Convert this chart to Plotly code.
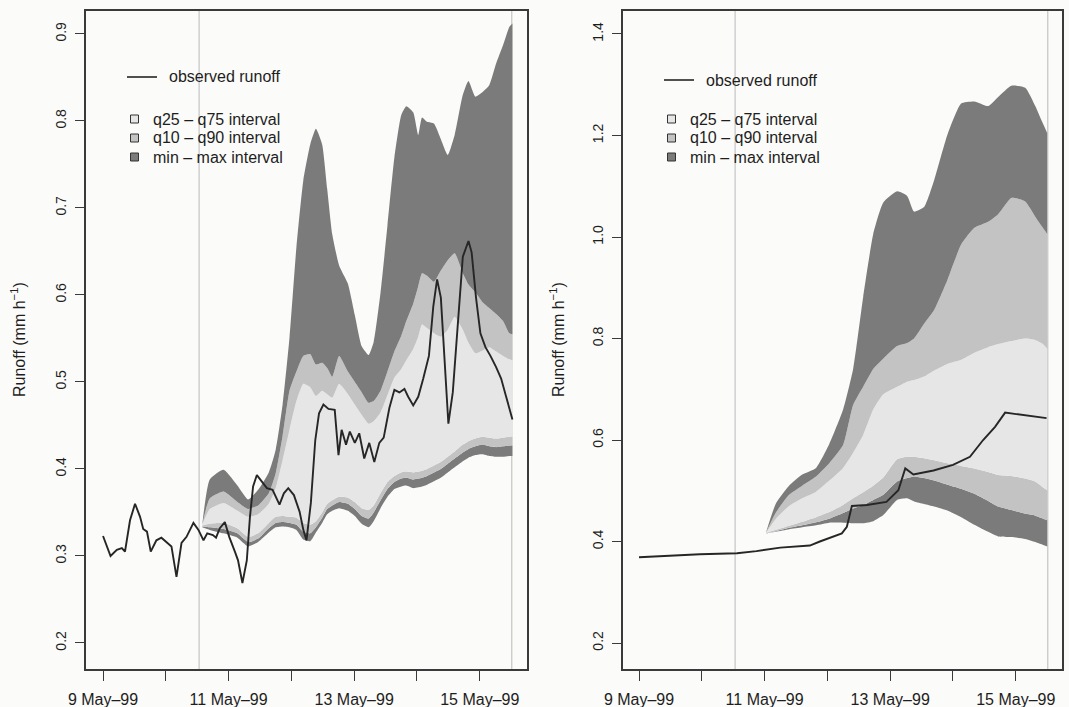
import pandas as pd
import plotly.graph_objects as go

W, H = 1069, 707
BASE = pd.Timestamp("1999-05-09 00:00")

# ---------------- data (days since 9 May 1999 00:00) ----------------
left_obs_days = [0, 0.12, 0.22, 0.30, 0.35, 0.43, 0.51, 0.59, 0.64, 0.70, 0.76, 0.85, 0.93, 1.02, 1.09,
                 1.17, 1.25, 1.33, 1.44, 1.52, 1.60, 1.66, 1.75, 1.80, 1.86, 1.94, 2.01, 2.10, 2.15, 2.22,
                 2.29, 2.34, 2.39, 2.45, 2.53, 2.61, 2.70, 2.81, 2.88, 2.95, 3.04, 3.13, 3.19, 3.24, 3.31,
                 3.38, 3.44, 3.51, 3.59, 3.69, 3.75, 3.80, 3.87, 3.93, 4.01, 4.08, 4.16, 4.24, 4.32, 4.40,
                 4.47, 4.56, 4.64, 4.72, 4.80, 4.86, 4.94, 5.02, 5.10, 5.19, 5.26, 5.32, 5.38, 5.44, 5.50,
                 5.57, 5.65, 5.73, 5.82, 5.87, 5.94, 6.01, 6.09, 6.17, 6.26, 6.34, 6.42, 6.52]
left_obs = [0.323, 0.300, 0.307, 0.309, 0.305, 0.341, 0.360, 0.345, 0.331, 0.328, 0.305, 0.318, 0.321, 0.315, 0.311,
            0.276, 0.315, 0.322, 0.338, 0.330, 0.318, 0.326, 0.324, 0.321, 0.332, 0.339, 0.322, 0.305, 0.295, 0.269,
            0.295, 0.345, 0.380, 0.393, 0.385, 0.378, 0.376, 0.359, 0.372, 0.378, 0.370, 0.351, 0.330, 0.318, 0.361,
            0.433, 0.464, 0.474, 0.469, 0.468, 0.416, 0.445, 0.428, 0.443, 0.430, 0.441, 0.412, 0.430, 0.408, 0.430,
            0.436, 0.470, 0.491, 0.488, 0.492, 0.483, 0.473, 0.483, 0.504, 0.530, 0.587, 0.618, 0.597, 0.524, 0.452,
            0.488, 0.566, 0.644, 0.662, 0.649, 0.597, 0.556, 0.540, 0.530, 0.517, 0.504, 0.483, 0.457]

left_band_days = [1.58, 1.70, 1.92, 2.14, 2.31, 2.47, 2.64, 2.75, 2.86, 2.97, 3.08, 3.19, 3.30, 3.39, 3.49,
                  3.57, 3.65, 3.76, 3.90, 4.01, 4.12, 4.23, 4.31, 4.42, 4.53, 4.64, 4.75, 4.83, 4.94, 5.02,
                  5.08, 5.16, 5.27, 5.38, 5.49, 5.60, 5.73, 5.82, 5.93, 6.04, 6.15, 6.26, 6.37, 6.47, 6.52]
left_max = [0.336, 0.388, 0.399, 0.381, 0.365, 0.376, 0.396, 0.422, 0.474, 0.551, 0.655, 0.732, 0.773, 0.791, 0.773,
            0.722, 0.670, 0.634, 0.613, 0.577, 0.541, 0.531, 0.546, 0.603, 0.680, 0.758, 0.807, 0.817, 0.810, 0.784,
            0.804, 0.799, 0.797, 0.779, 0.761, 0.784, 0.830, 0.846, 0.828, 0.833, 0.841, 0.866, 0.887, 0.908, 0.912]
left_q90 = [0.336, 0.366, 0.374, 0.362, 0.354, 0.358, 0.372, 0.395, 0.438, 0.490, 0.512, 0.530, 0.532, 0.520, 0.522,
            0.516, 0.506, 0.530, 0.512, 0.500, 0.488, 0.476, 0.478, 0.490, 0.512, 0.535, 0.553, 0.570, 0.590, 0.610,
            0.625, 0.622, 0.615, 0.628, 0.640, 0.648, 0.625, 0.612, 0.603, 0.592, 0.585, 0.578, 0.570, 0.556, 0.555]
left_q75 = [0.336, 0.354, 0.361, 0.352, 0.345, 0.348, 0.360, 0.378, 0.410, 0.445, 0.478, 0.498, 0.494, 0.484, 0.490,
            0.486, 0.482, 0.498, 0.486, 0.474, 0.462, 0.452, 0.455, 0.465, 0.485, 0.505, 0.515, 0.525, 0.538, 0.552,
            0.566, 0.562, 0.556, 0.552, 0.560, 0.575, 0.560, 0.545, 0.533, 0.536, 0.540, 0.535, 0.530, 0.526, 0.525]
left_q25 = [0.335, 0.337, 0.338, 0.332, 0.322, 0.326, 0.338, 0.345, 0.346, 0.345, 0.344, 0.338, 0.336, 0.340, 0.350,
            0.360, 0.364, 0.368, 0.367, 0.362, 0.355, 0.353, 0.358, 0.372, 0.385, 0.392, 0.396, 0.397, 0.396, 0.397,
            0.398, 0.400, 0.404, 0.408, 0.414, 0.420, 0.428, 0.432, 0.435, 0.437, 0.436, 0.435, 0.436, 0.437, 0.437]
left_q10 = [0.334, 0.333, 0.331, 0.326, 0.316, 0.320, 0.332, 0.338, 0.339, 0.338, 0.336, 0.328, 0.326, 0.333, 0.344,
            0.354, 0.358, 0.362, 0.360, 0.354, 0.346, 0.343, 0.350, 0.364, 0.377, 0.385, 0.389, 0.390, 0.388, 0.389,
            0.390, 0.392, 0.396, 0.400, 0.406, 0.412, 0.419, 0.423, 0.426, 0.428, 0.426, 0.425, 0.426, 0.427, 0.427]
left_min = [0.333, 0.330, 0.326, 0.321, 0.311, 0.316, 0.327, 0.333, 0.334, 0.333, 0.330, 0.319, 0.317, 0.327, 0.338,
            0.348, 0.352, 0.355, 0.352, 0.346, 0.337, 0.333, 0.340, 0.355, 0.368, 0.377, 0.380, 0.381, 0.378, 0.379,
            0.380, 0.382, 0.386, 0.390, 0.396, 0.402, 0.409, 0.413, 0.416, 0.417, 0.415, 0.414, 0.414, 0.415, 0.415]

right_obs_days = [0, 0.97, 1.56, 1.87, 2.25, 2.72, 2.88, 3.09, 3.23, 3.31, 3.39, 3.63, 3.94, 4.13, 4.24,
                  4.37, 4.69, 5.00, 5.27, 5.48, 5.67, 5.83, 6.17, 6.49]
right_obs = [0.369, 0.375, 0.377, 0.381, 0.388, 0.392, 0.400, 0.409, 0.416, 0.429, 0.470, 0.472, 0.478, 0.501, 0.544,
             0.532, 0.540, 0.551, 0.567, 0.600, 0.626, 0.654, 0.649, 0.643]

right_band_days = [2.02, 2.18, 2.39, 2.60, 2.82, 3.03, 3.25, 3.41, 3.57, 3.73, 3.89, 4.11, 4.27, 4.38, 4.54,
                   4.70, 4.91, 5.13, 5.34, 5.56, 5.72, 5.93, 6.15, 6.31, 6.42, 6.50]
right_max = [0.417, 0.475, 0.510, 0.532, 0.545, 0.592, 0.660, 0.740, 0.882, 1.006, 1.068, 1.090, 1.081, 1.050, 1.059,
             1.112, 1.201, 1.263, 1.267, 1.258, 1.276, 1.298, 1.294, 1.258, 1.227, 1.205]
right_q90 = [0.417, 0.457, 0.492, 0.510, 0.528, 0.554, 0.590, 0.669, 0.705, 0.740, 0.760, 0.785, 0.791, 0.800, 0.829,
             0.856, 0.915, 0.985, 1.018, 1.030, 1.045, 1.077, 1.070, 1.040, 1.020, 1.006]
right_q75 = [0.417, 0.445, 0.470, 0.485, 0.498, 0.520, 0.545, 0.575, 0.610, 0.660, 0.690, 0.705, 0.715, 0.718, 0.725,
             0.737, 0.750, 0.758, 0.772, 0.783, 0.789, 0.795, 0.800, 0.797, 0.790, 0.780]
right_q25 = [0.417, 0.423, 0.431, 0.439, 0.448, 0.458, 0.472, 0.485, 0.497, 0.510, 0.526, 0.562, 0.567, 0.567, 0.564,
             0.560, 0.554, 0.549, 0.544, 0.537, 0.531, 0.529, 0.524, 0.518, 0.508, 0.501]
right_q10 = [0.416, 0.420, 0.427, 0.432, 0.438, 0.445, 0.456, 0.465, 0.472, 0.482, 0.492, 0.518, 0.525, 0.528, 0.525,
             0.520, 0.512, 0.504, 0.494, 0.480, 0.469, 0.462, 0.455, 0.451, 0.446, 0.442]
right_min = [0.416, 0.419, 0.424, 0.428, 0.432, 0.437, 0.437, 0.436, 0.436, 0.440, 0.452, 0.482, 0.485, 0.479, 0.474,
             0.469, 0.461, 0.448, 0.433, 0.419, 0.410, 0.409, 0.405, 0.399, 0.394, 0.390]

label_days = [0, 2, 4, 6]
tick_text = ["9 May–99", "11 May–99", "13 May–99", "15 May–99"]
left_yticks = [0.2, 0.3, 0.4, 0.5, 0.6, 0.7, 0.8, 0.9]
right_yticks = [0.2, 0.4, 0.6, 0.8, 1.0, 1.2, 1.4]
legend_labels = ["q25 – q75 interval", "q10 – q90 interval", "min – max interval"]
marker_days = [1.53, 6.51]

# ---------------- style ----------------
BG = "#fbfbf9"
DARK = "#7b7b7b"
MID = "#c3c3c3"
LIGHT = "#e6e6e6"
LINE = "#262626"
AXC = "#3a3a3a"
TXT = "#1e1e1e"
FONT = "Liberation Sans, Arial, sans-serif"

for a, b in [(left_obs_days, left_obs), (right_obs_days, right_obs)]:
    assert len(a) == len(b)
for d, arrs in [(left_band_days, [left_max, left_q90, left_q75, left_q25, left_q10, left_min]),
                (right_band_days, [right_max, right_q90, right_q75, right_q25, right_q10, right_min])]:
    for arr in arrs:
        assert len(arr) == len(d), (len(arr), len(d))


def tt(days):
    return [BASE + pd.Timedelta(days=float(v)) for v in days]


fig = go.Figure()


def add_panel(xa, ya, bdays, mn, q10, q25, q75, q90, mx, odays, obs):
    x = tt(bdays)
    seq = [(mn, None, None), (q10, "tonexty", DARK), (q25, "tonexty", MID),
           (q75, "tonexty", LIGHT), (q90, "tonexty", MID), (mx, "tonexty", DARK)]
    for vals, fill, col in seq:
        fig.add_trace(go.Scatter(x=x, y=vals, mode="lines",
                                 line=dict(width=0, shape="spline", smoothing=0.5),
                                 fill=fill, fillcolor=col, xaxis=xa, yaxis=ya,
                                 hoverinfo="skip", showlegend=False))
    fig.add_trace(go.Scatter(x=tt(odays), y=obs, mode="lines",
                             line=dict(color=LINE, width=1.9),
                             xaxis=xa, yaxis=ya, showlegend=False))


add_panel("x", "y", left_band_days, left_min, left_q10, left_q25, left_q75, left_q90, left_max,
          left_obs_days, left_obs)
add_panel("x2", "y2", right_band_days, right_min, right_q10, right_q25, right_q75, right_q90, right_max,
          right_obs_days, right_obs)

# pixel geometry
yd = [1 - 669 / H, 1 - 11 / H]
left_px = (86, 527)
right_px = (623, 1062)


def xaxis_cfg(px, rng, anchor):
    return dict(type="date", domain=[px[0] / W, px[1] / W], anchor=anchor,
                range=[str(tt([rng[0]])[0]), str(tt([rng[1]])[0])],
                tickmode="array", tickvals=tt(label_days), ticktext=tick_text,
                ticks="outside", ticklen=10, tickwidth=1.3, tickcolor=AXC,
                minor=dict(tickmode="linear", tick0=str(BASE), dtick=86400000, ticks="outside",
                           ticklen=10, tickwidth=1.3, tickcolor=AXC, showgrid=False),
                showline=True, linecolor=AXC, linewidth=1.6, mirror=True,
                showgrid=False, zeroline=False, automargin=False, ticklabelstandoff=5,
                tickfont=dict(family=FONT, size=16, color=TXT))


def yaxis_cfg(rng, ticks, anchor):
    return dict(domain=yd, range=rng, tickmode="array", tickvals=ticks,
                ticktext=[f"{t:.1f}" for t in ticks], tickangle=-90,
                ticks="outside", ticklen=9, tickwidth=1.3, tickcolor=AXC,
                showline=True, linecolor=AXC, linewidth=1.6, mirror=True,
                showgrid=False, zeroline=False, anchor=anchor, automargin=False,
                ticklabelstandoff=4,
                tickfont=dict(family=FONT, size=14, color=TXT))


fig.update_layout(
    width=W, height=H, margin=dict(l=0, r=0, t=0, b=0, pad=0, autoexpand=False),
    paper_bgcolor=BG, plot_bgcolor=BG, showlegend=False,
    xaxis=xaxis_cfg(left_px, (-0.271, 6.752), "y"),
    yaxis=yaxis_cfg([0.1701, 0.9264], left_yticks, "x"),
    xaxis2=xaxis_cfg(right_px, (-0.255, 6.736), "y2"),
    yaxis2=yaxis_cfg([0.1488, 1.4453], right_yticks, "x2"),
)

shapes = []
annotations = []
for xa, ya in [("x", "y"), ("x2", "y2")]:
    for d in marker_days:
        xv = tt([d])[0]
        shapes.append(dict(type="line", xref=xa, yref=f"{ya} domain", x0=xv, x1=xv, y0=0, y1=1,
                           line=dict(color="#b9b9b9", width=1), layer="below"))


def px(x):
    return x / W


def py(y):
    return 1 - y / H


# legends (drawn in pixel positions relative to each panel)
for off, ly in [(0, 77), (537, 80)]:
    shapes.append(dict(type="line", xref="paper", yref="paper",
                       x0=px(127 + off), x1=px(157 + off), y0=py(ly), y1=py(ly),
                       line=dict(color=LINE, width=1.6)))
    annotations.append(dict(xref="paper", yref="paper", x=px(167 + off), y=py(ly),
                            text="observed runoff", showarrow=False, xanchor="left", yanchor="middle",
                            font=dict(family=FONT, size=16, color=TXT)))
    for lab, col, sy in zip(legend_labels, [LIGHT, MID, DARK], [119, 138, 157]):
        shapes.append(dict(type="rect", xref="paper", yref="paper",
                           x0=px(130.5 + off), x1=px(138.5 + off), y0=py(sy + 4), y1=py(sy - 4),
                           fillcolor=col, line=dict(color="#333333", width=1)))
        annotations.append(dict(xref="paper", yref="paper", x=px(151 + off), y=py(sy),
                                text=lab, showarrow=False, xanchor="left", yanchor="middle",
                                font=dict(family=FONT, size=16, color=TXT)))

for tx in [18, 557]:
    annotations.append(dict(xref="paper", yref="paper", x=px(tx), y=py(340),
                            text="Runoff (mm h<sup>−1</sup>)", textangle=-90, showarrow=False,
                            xanchor="center", yanchor="middle",
                            font=dict(family=FONT, size=16, color=TXT)))

fig.update_layout(shapes=shapes, annotations=annotations)
fig.write_html("out.html", config={"displayModeBar": False},
               post_script="document.body.style.margin='0px';document.body.style.background='%s';" % BG)
